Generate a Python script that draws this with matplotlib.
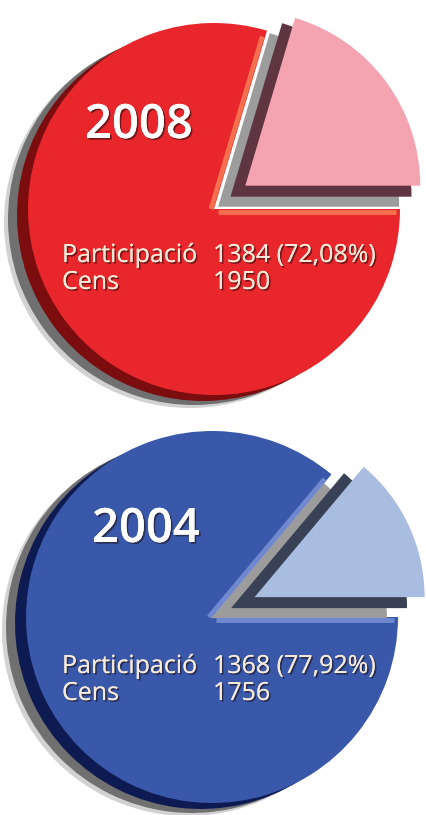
import numpy as np
import matplotlib.pyplot as plt
from matplotlib import patheffects

W, H = 426, 815

years = ['2008', '2004']
participacio = [1384, 1368]
percent = ['72,08%', '77,92%']
cens = [1950, 1756]
# share of the pulled-out slice, as it is drawn in the picture
slice_share = [0.204, 0.139]

face = ['#e8262b', '#3a58aa']
rim = ['#7c0d0f', '#0e1a52']
slice_face = ['#f4a4b1', '#a9bde1']
slice_dark = ['#5e3541', '#394156']
edge_light = ['#f4704f', '#7088cf']

# layout in pixels from the top-left corner
centers = [(214, 209), (212, 617)]
radius = 186
slice_radius = [175, 170]
explode_px = [39, 47]
title_pos = [(85, 138), (92, 542)]
label_y = [(262, 289), (673, 700)]

fig = plt.figure(figsize=(W / 100, H / 100), dpi=100)
ax = fig.add_axes([0, 0, 1, 1])

txt_shadow = [patheffects.withSimplePatchShadow(offset=(1.2, -1.2), shadow_rgbFace='#1a0a0a', alpha=0.55),
              patheffects.Normal()]


def side_shift(t, down, side):
    # move a wedge so that it sticks out `down` px under the flat edge
    # and `side` px past the slanted edge
    return -(side + down * np.cos(t)) / np.sin(t), -down


for i in range(2):
    cx, cy = centers[i][0], H - centers[i][1]
    vals = [slice_share[i], 1 - slice_share[i]]
    theta = 360 * slice_share[i]
    t = np.radians(theta)

    # soft shadow + dark rim under the main part
    for dx, dy, col, a in [(-24, -13, '#b4b4b4', 0.6), (-20, -10, '#707070', 1.0), (-11, -6, rim[i], 1.0)]:
        ax.pie(vals, colors=['none', col], center=(cx + dx, cy + dy), radius=radius,
               startangle=0, wedgeprops=dict(linewidth=0, alpha=a))
    ax.pie(vals, colors=['none', face[i]], center=(cx, cy), radius=radius,
           startangle=0, wedgeprops=dict(linewidth=0))

    # light bevel along the notch edges
    ax.plot([cx + 4, cx + radius - 4], [cy - 3, cy - 3], color=edge_light[i], lw=3.5, solid_capstyle='butt')
    ax.plot([cx - 3, cx - 3 + (radius - 6) * np.cos(t)], [cy, cy + (radius - 6) * np.sin(t)],
            color=edge_light[i], lw=3.5, solid_capstyle='butt')

    # pulled-out slice with its dark side
    mid = t / 2
    sx = cx + explode_px[i] * np.cos(mid)
    sy = cy + explode_px[i] * np.sin(mid)
    for down, side, col in [(21, 20, '#9c9c9c'), (11, 11, slice_dark[i])]:
        dx, dy = side_shift(t, down, side)
        ax.pie(vals, colors=[col, 'none'], center=(sx + dx, sy + dy), radius=slice_radius[i] + 6,
               startangle=0, wedgeprops=dict(linewidth=0))
    ax.pie(vals, colors=[slice_face[i], 'none'], center=(sx, sy), radius=slice_radius[i],
           startangle=0, wedgeprops=dict(linewidth=0))

    # texts
    tx, ty = title_pos[i]
    ax.text(tx, H - ty, years[i], fontsize=34, fontweight='semibold', family='Open Sans',
            color='white', ha='left', va='baseline', path_effects=txt_shadow)
    y1, y2 = label_y[i]
    for x, y, s in [(62, y1, 'Participació'), (213, y1, f'{participacio[i]} ({percent[i]})'),
                    (62, y2, 'Cens'), (213, y2, f'{cens[i]}')]:
        ax.text(x, H - y, s, fontsize=18, family='Open Sans', color='#f6ead8',
                ha='left', va='baseline', path_effects=txt_shadow)

ax.set_xlim(0, W)
ax.set_ylim(0, H)
ax.set_aspect('equal')
ax.axis('off')
fig.savefig('out.png', dpi=100, facecolor='white')
